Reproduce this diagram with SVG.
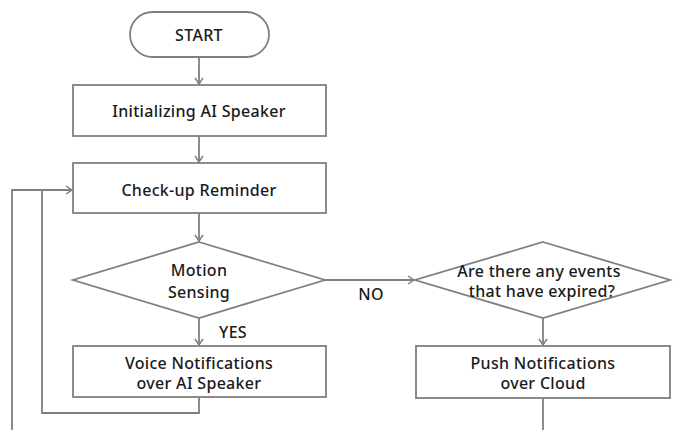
<svg xmlns="http://www.w3.org/2000/svg" width="679" height="430" viewBox="0 0 679 430">
<style>
.s{fill:#fff;stroke:#7f7f7f;stroke-width:1.8}
.c{fill:none;stroke:#7f7f7f;stroke-width:1.8}
text{font-family:"Noto Sans","DejaVu Sans",sans-serif;font-size:16px;letter-spacing:0.3px;fill:#1a1a1a;text-anchor:middle;font-weight:500}
</style>
<defs>
<marker id="a" markerWidth="12" markerHeight="12" refX="9" refY="5" orient="auto" markerUnits="userSpaceOnUse">
<polyline points="3,1 9,5 3,9" fill="none" stroke="#7f7f7f" stroke-width="1.5"/>
</marker>
</defs>
<g id="connectors">
<line class="c" x1="199" y1="57" x2="199" y2="84" marker-end="url(#a)"/>
<line class="c" x1="199" y1="136" x2="199" y2="162" marker-end="url(#a)"/>
<line class="c" x1="199" y1="213" x2="199" y2="241" marker-end="url(#a)"/>
<line class="c" x1="199" y1="318" x2="199" y2="345" marker-end="url(#a)"/>
<polyline class="c" points="199,397 199,413 42,413 42,190"/>
<polyline class="c" points="12,430 12,190 72,190" marker-end="url(#a)"/>
<line class="c" x1="325" y1="280" x2="414" y2="280" marker-end="url(#a)"/>
<line class="c" x1="543" y1="318" x2="543" y2="345" marker-end="url(#a)"/>
<line class="c" x1="543" y1="398" x2="543" y2="430"/>
<text x="233" y="338">YES</text>
<text x="371" y="300">NO</text>
</g>
<g id="start">
<rect class="s" x="130" y="12" width="139" height="45" rx="22.5"/>
<text x="199" y="41">START</text>
</g>
<g id="init">
<rect class="s" x="73" y="85" width="253" height="51"/>
<text x="199" y="117">Initializing AI Speaker</text>
</g>
<g id="checkup">
<rect class="s" x="73" y="163" width="253" height="50"/>
<text x="199" y="196">Check-up Reminder</text>
</g>
<g id="motion">
<polygon class="s" points="199,242 325,280 199,318 73,280"/>
<text x="199" y="276">Motion</text>
<text x="199" y="298">Sensing</text>
</g>
<g id="voice">
<rect class="s" x="73" y="346" width="253" height="51"/>
<text x="199" y="369">Voice Notifications</text>
<text x="199" y="389">over AI Speaker</text>
</g>
<g id="expired">
<polygon class="s" points="543,242 670,280 543,318 415,280"/>
<text x="539" y="277">Are there any events</text>
<text x="542" y="297">that have expired?</text>
</g>
<g id="push">
<rect class="s" x="416" y="346" width="254" height="52"/>
<text x="543" y="369">Push Notifications</text>
<text x="543" y="389">over Cloud</text>
</g>
</svg>
